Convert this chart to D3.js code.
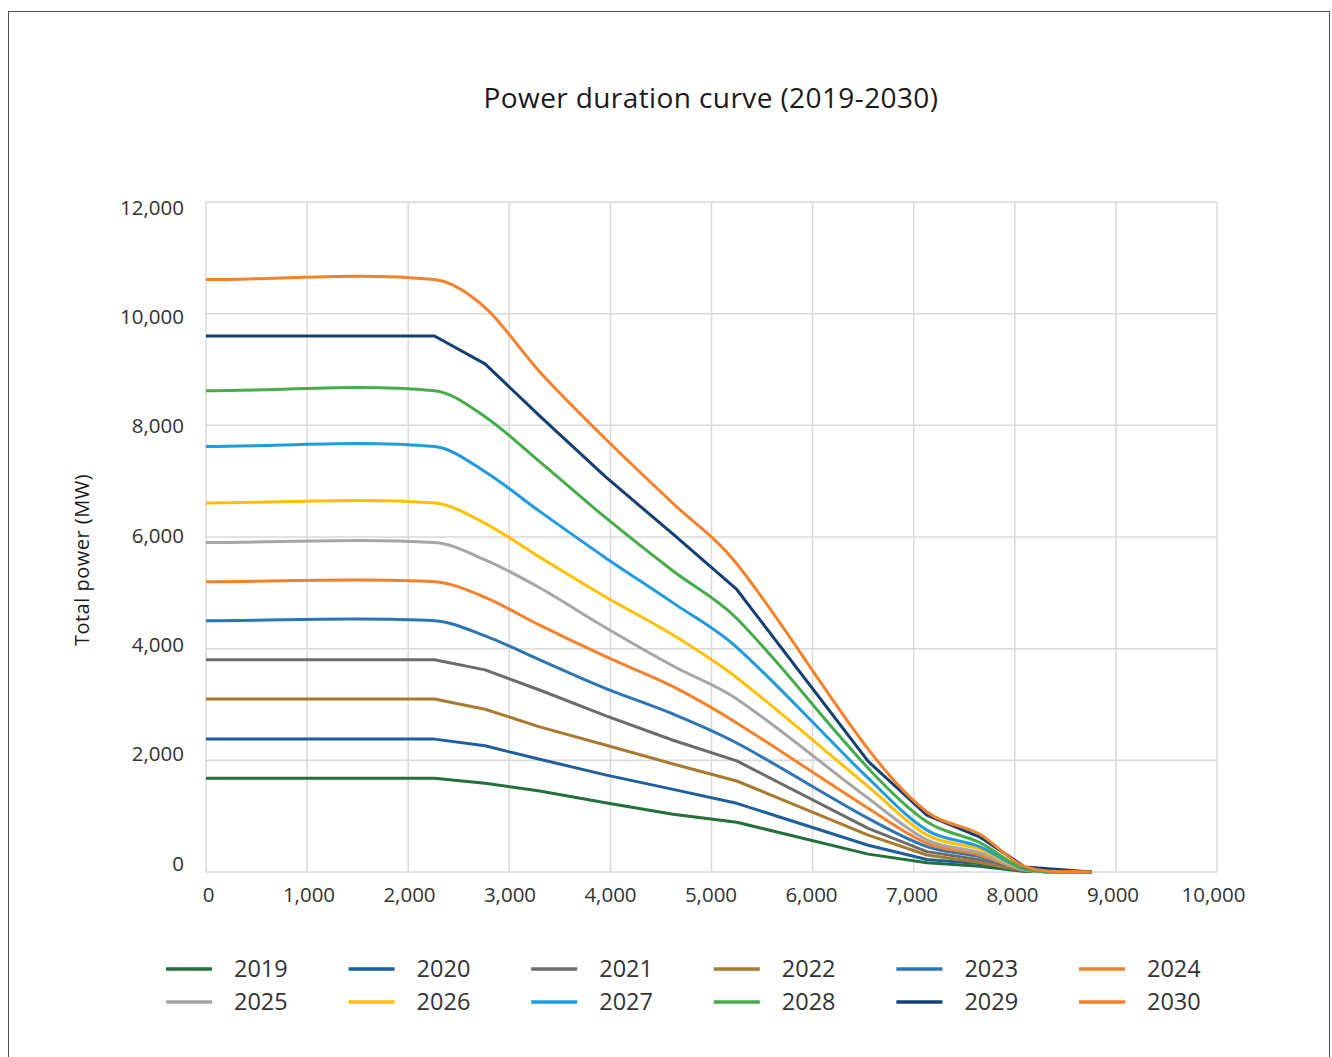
<!DOCTYPE html>
<html>
<head>
<meta charset="utf-8">
<script src="https://cdn.jsdelivr.net/npm/d3@7"></script>
<style>
  body { margin: 0; background: #fff; }
  svg { display: block; font-family: "Open Sans", "Noto Sans", sans-serif; }
</style>
</head>
<body>
<svg id="chart" width="1332" height="1057"></svg>
<script>
// hours of the year (sorted duration)
const hours = [0, 2260, 2760, 3300, 3950, 4620, 5250, 6550, 7130, 7650, 8100, 8760];

const years = ['2019', '2020', '2021', '2022', '2023', '2024', '2025', '2026', '2027', '2028', '2029', '2030'];

const p2019 = [1680, 1680, 1590, 1450, 1240, 1035, 890, 320, 165, 105, 10, 0];
const p2020 = [2380, 2380, 2260, 2020, 1740, 1480, 1230, 480, 225, 150, 20, 0];
const p2021 = [3800, 3800, 3620, 3260, 2800, 2360, 1990, 780, 365, 220, 25, 0];
const p2022 = [3100, 3100, 2915, 2600, 2275, 1935, 1630, 660, 305, 170, 20, 0];
const p2023 = [4500, 4500, 4230, 3800, 3290, 2830, 2310, 960, 455, 275, 30, 0];
const p2024 = [5200, 5200, 4920, 4420, 3860, 3320, 2670, 1140, 515, 305, 35, 0];
const p2025 = [5900, 5900, 5590, 5090, 4380, 3690, 3100, 1320, 575, 350, 40, 0];
const p2026 = [6610, 6610, 6245, 5640, 4930, 4245, 3480, 1530, 665, 410, 45, 0];
const p2027 = [7620, 7620, 7170, 6460, 5630, 4820, 4025, 1680, 750, 455, 50, 0];
const p2028 = [8620, 8620, 8155, 7350, 6350, 5390, 4540, 1860, 900, 530, 60, 0];
const p2029 = [9600, 9600, 9100, 8170, 7080, 6050, 5060, 1980, 1020, 630, 90, 0];
const p2030 = [10610, 10610, 10110, 8960, 7760, 6600, 5520, 2200, 1080, 680, 95, 0];

const seriesValues = [p2019, p2020, p2021, p2022, p2023, p2024, p2025, p2026, p2027, p2028, p2029, p2030];
const colors = ['#23703a', '#1d5f9e', '#6b6b6b', '#a77a2e', '#2e75b6', '#f5822a',
                '#a6a6a6', '#ffc000', '#1f9bde', '#44ad4a', '#133f73', '#f5822a'];
// which years are drawn as smoothed lines
const smoothYears = ['2023', '2024', '2025', '2026', '2027', '2028', '2030'];

const xTicks = d3.range(0, 10001, 1000);
const yTicks = d3.range(0, 12001, 2000);

// Excel-ish smoothing: cubic hermite in x with central-difference slopes
function curveSmoothX(context) {
    let xs, ys;
    return {
        areaStart() {}, areaEnd() {},
        lineStart() { xs = []; ys = []; },
        point(px, py) { xs.push(+px); ys.push(+py); },
        lineEnd() {
            const n = xs.length;
            if (!n) return;
            const m = xs.map((_, i) => {
                if (n < 2) return 0;
                if (i === 0) return (ys[1] - ys[0]) / (xs[1] - xs[0]);
                if (i === n - 1) return (ys[n - 1] - ys[n - 2]) / (xs[n - 1] - xs[n - 2]);
                return (ys[i + 1] - ys[i - 1]) / (xs[i + 1] - xs[i - 1]);
            });
            context.moveTo(xs[0], ys[0]);
            for (let i = 0; i < n - 1; i++) {
                const h = (xs[i + 1] - xs[i]) / 3;
                context.bezierCurveTo(xs[i] + h, ys[i] + m[i] * h,
                                      xs[i + 1] - h, ys[i + 1] - m[i + 1] * h,
                                      xs[i + 1], ys[i + 1]);
            }
        }
    };
}

const svg = d3.select('#chart');

// outer frame
svg.append('rect')
    .attr('x', 8.5).attr('y', 11.5)
    .attr('width', 1321).attr('height', 1070)
    .attr('fill', 'none')
    .attr('stroke', '#4d4d4d')
    .attr('stroke-width', 1);

const x = d3.scaleLinear().domain([0, 10000]).range([206, 1217]);
const y = d3.scaleLinear().domain([0, 12000]).range([872, 202]);
// Excel puts the labels on a slightly squeezed scale
const xLab = d3.scaleLinear().domain([0, 10000]).range([208.5, 1213.5]);
const yLab = d3.scaleLinear().domain([0, 12000]).range([863.5, 207.5]);

// grid
const grid = svg.append('g').attr('stroke', '#d9d9d9').attr('stroke-width', 1.5);
grid.selectAll('line.v').data(xTicks).enter().append('line')
    .attr('x1', d => x(d)).attr('x2', d => x(d))
    .attr('y1', y(12000)).attr('y2', y(0));
grid.selectAll('line.h').data(yTicks).enter().append('line')
    .attr('x1', x(0)).attr('x2', x(10000))
    .attr('y1', d => y(d)).attr('y2', d => y(d));

const fmt = d3.format(',');

svg.append('g').selectAll('text').data(yTicks).enter().append('text')
    .attr('x', 184)
    .attr('y', d => yLab(d))
    .attr('dy', '0.35em')
    .attr('text-anchor', 'end')
    .attr('font-size', 20.5)
    .attr('fill', '#333')
    .text(d => fmt(d));

svg.append('g').selectAll('text').data(xTicks).enter().append('text')
    .attr('x', d => xLab(d))
    .attr('y', 895)
    .attr('dy', '0.35em')
    .attr('text-anchor', 'middle')
    .attr('font-size', 20.5)
    .attr('fill', '#333')
    .text(d => fmt(d));

// title
svg.append('text')
    .attr('x', 711).attr('y', 98)
    .attr('dy', '0.35em')
    .attr('text-anchor', 'middle')
    .attr('font-size', 28)
    .attr('letter-spacing', 0.4)
    .attr('fill', '#1a1a1a')
    .text('Power duration curve (2019-2030)');

// y axis title
svg.append('text')
    .attr('transform', 'translate(82,560) rotate(-90)')
    .attr('dy', '0.35em')
    .attr('text-anchor', 'middle')
    .attr('font-size', 20)
    .attr('letter-spacing', 0.5)
    .attr('fill', '#1a1a1a')
    .text('Total power (MW)');

// lines
const straight = d3.line().x((d, i) => x(hours[i])).y(d => y(d)).curve(d3.curveLinear);
const smooth = d3.line().x((d, i) => x(hours[i])).y(d => y(d)).curve(curveSmoothX);

svg.append('g').selectAll('path').data(years).enter().append('path')
    .attr('d', (yr, i) => (smoothYears.includes(yr) ? smooth : straight)(seriesValues[i]))
    .attr('fill', 'none')
    .attr('stroke', (yr, i) => colors[i])
    .attr('stroke-width', 3)
    .attr('stroke-linejoin', 'round');

// legend, 2 rows of 6
const legend = svg.append('g').selectAll('g').data(years).enter().append('g')
    .attr('transform', (yr, i) => `translate(${166 + (i % 6) * 182.6},${969 + Math.floor(i / 6) * 33})`);

legend.append('line')
    .attr('x1', 0).attr('x2', 46)
    .attr('y1', 0).attr('y2', 0)
    .attr('stroke', (yr, i) => colors[i])
    .attr('stroke-width', 3.5);

legend.append('text')
    .attr('x', 68).attr('y', 0)
    .attr('dy', '0.35em')
    .attr('font-size', 23.5)
    .attr('fill', '#333')
    .text(yr => yr);
</script>
</body>
</html>
